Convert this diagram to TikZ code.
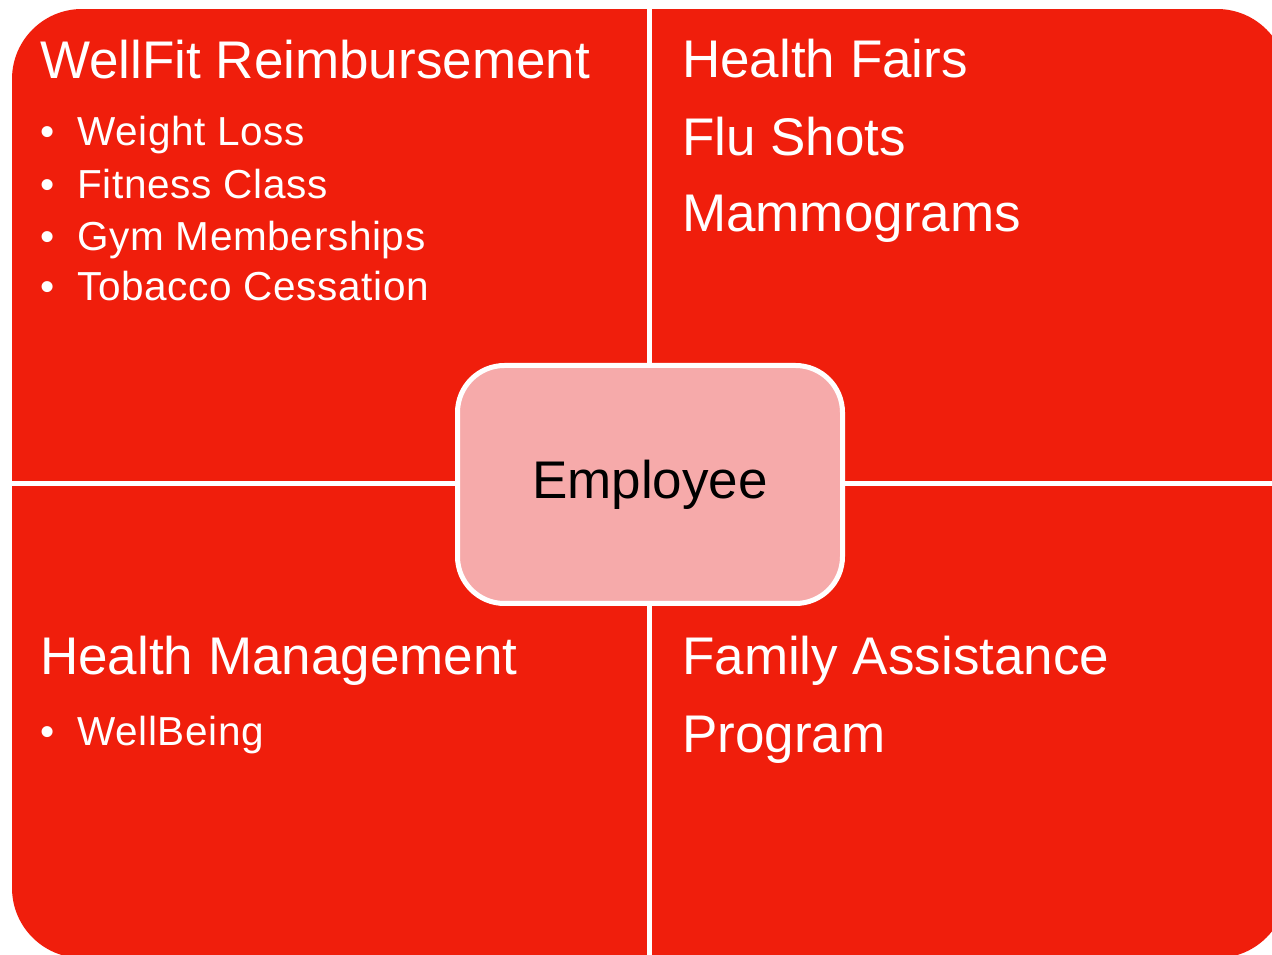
\documentclass[tikz,border=0pt]{standalone}
\usepackage{fontspec}
\setmainfont{Liberation Sans}
\newfontfamily\spacedsans[LetterSpace=1.6]{Liberation Sans}
\definecolor{qred}{RGB}{240,30,12}
\definecolor{qpink}{RGB}{246,170,170}
\begin{document}
\begin{tikzpicture}[x=1pt,y=1pt,
  big/.style={font=\fontsize{53}{60}\selectfont, text=white, inner sep=0pt, anchor=base west},
  small/.style={font=\spacedsans\fontsize{40.5}{48}\selectfont, text=white, inner sep=0pt, anchor=base west},
  quad/.style={fill=qred},
  centerbox/.style={draw=white, line width=5pt, fill=qpink, rounded corners=47pt,
    minimum width=385pt, minimum height=238pt, inner sep=0pt,
    font=\fontsize{53}{60}\selectfont, text=black}]
\useasboundingbox (0,0) rectangle (1272,954);
\clip (0,0) rectangle (1272,954);
\begin{scope}
  \clip[rounded corners=70pt] (12,-4) rectangle (1287,945);
  \fill[quad] (12,473) rectangle (647,945);
  \fill[quad] (652,473) rectangle (1287,945);
  \fill[quad] (12,-4) rectangle (647,468);
  \fill[quad] (652,-4) rectangle (1287,468);
\end{scope}
% top-left
\node[big] (t1) at (40,875) {WellFit Reimbursement};
\node[small] (b1) at (40,808) {•};
\node[small] (i1) at (77,808) {Weight Loss};
\node[small] (b2) at (40,755) {•};
\node[small] (i2) at (77,755) {Fitness Class};
\node[small] (b3) at (40,703) {•};
\node[small] (i3) at (77,703) {Gym Memberships};
\node[small] (b4) at (40,653) {•};
\node[small] (i4) at (77,653) {Tobacco Cessation};
% top-right
\node[big] (t2) at (682,876) {Health Fairs};
\node[big] (t2b) at (682,798) {Flu Shots};
\node[big] (t2c) at (682,722) {Mammograms};
% bottom-left
\node[big] (t3) at (40,279) {Health Management};
\node[small] (b5) at (40,208) {•};
\node[small] (i5) at (77,208) {WellBeing};
% bottom-right
\node[big] (t4) at (682,279) {Family Assistance};
\node[big] (t4b) at (682,202) {Program};
% center
\node[centerbox] (emp) at (650,469.5) {Employee};
\end{tikzpicture}
\end{document}
